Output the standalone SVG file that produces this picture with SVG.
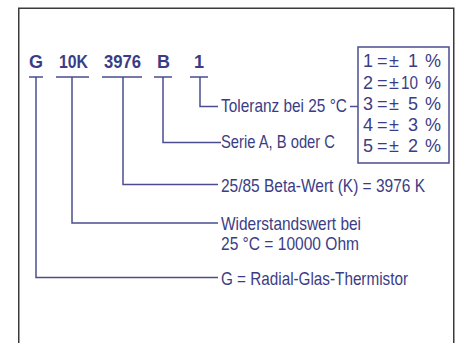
<svg xmlns="http://www.w3.org/2000/svg" width="462" height="343" viewBox="0 0 462 343">
<style>
.t{font-family:"Liberation Sans Narrow","Liberation Sans",Arial,sans-serif;font-size:18.5px;fill:#3b3d84}
.b{font-family:"Liberation Sans Narrow","Liberation Sans",Arial,sans-serif;font-size:18px;fill:#3b3d84}
.h{font-family:"Liberation Sans",Arial,sans-serif;font-size:18px;font-weight:bold;fill:#3b3d84}
.c{fill:none;stroke:#4b4d8f;stroke-width:1.5}
</style>
<rect x="0" y="0" width="462" height="343" fill="#ffffff"/>
<rect id="frame" x="18.75" y="8.25" width="435" height="400" fill="none" stroke="#3a3a3a" stroke-width="1.5"/>
<g id="code">
  <text class="h" x="29" y="68">G</text>
  <text class="h" x="59" y="68" textLength="29" lengthAdjust="spacingAndGlyphs">10K</text>
  <text class="h" x="104" y="68" textLength="37" lengthAdjust="spacingAndGlyphs">3976</text>
  <text class="h" x="157" y="68">B</text>
  <text class="h" x="194" y="68">1</text>
</g>
<g id="connectors" class="c">
  <path d="M29 77H43M36 77V277.5H218"/>
  <path d="M56 77H89M72 77V223H218"/>
  <path d="M102 77H142M123 77V184.5H218"/>
  <path d="M154 77H172M163 77V142.5H221"/>
  <path d="M190 77H208M200 77V106.5H218"/>
  <path d="M350 106.5H358"/>
</g>
<g id="label-tol"><text class="t" x="221" y="112" textLength="126" lengthAdjust="spacingAndGlyphs">Toleranz bei 25 °C</text></g>
<g id="label-serie"><text class="t" x="221" y="148" textLength="114" lengthAdjust="spacingAndGlyphs">Serie A, B oder C</text></g>
<g id="label-beta"><text class="t" x="221" y="192" textLength="204" lengthAdjust="spacingAndGlyphs">25/85 Beta-Wert (K) = 3976 K</text></g>
<g id="label-wid">
  <text class="t" x="221" y="229.5" textLength="140" lengthAdjust="spacingAndGlyphs">Widerstandswert bei</text>
  <text class="t" x="221" y="250" textLength="138" lengthAdjust="spacingAndGlyphs">25 °C = 10000 Ohm</text>
</g>
<g id="label-g"><text class="t" x="221" y="285" textLength="187" lengthAdjust="spacingAndGlyphs">G = Radial-Glas-Thermistor</text></g>
<g id="tolbox">
  <rect x="358" y="47" width="91" height="116" fill="none" stroke="#4b4d8f" stroke-width="1.5"/>
  <g class="b">
    <text x="363" y="67">1</text><text x="377" y="67">=</text><text x="389" y="67">±</text><text x="418" y="67" text-anchor="end">1</text><text x="425" y="67">%</text>
    <text x="363" y="89">2</text><text x="377" y="89">=</text><text x="389" y="89">±</text><text x="401" y="89" textLength="17" lengthAdjust="spacingAndGlyphs">10</text><text x="425" y="89">%</text>
    <text x="363" y="110">3</text><text x="377" y="110">=</text><text x="389" y="110">±</text><text x="418" y="110" text-anchor="end">5</text><text x="425" y="110">%</text>
    <text x="363" y="131">4</text><text x="377" y="131">=</text><text x="389" y="131">±</text><text x="418" y="131" text-anchor="end">3</text><text x="425" y="131">%</text>
    <text x="363" y="152">5</text><text x="377" y="152">=</text><text x="389" y="152">±</text><text x="418" y="152" text-anchor="end">2</text><text x="425" y="152">%</text>
  </g>
</g>
</svg>
